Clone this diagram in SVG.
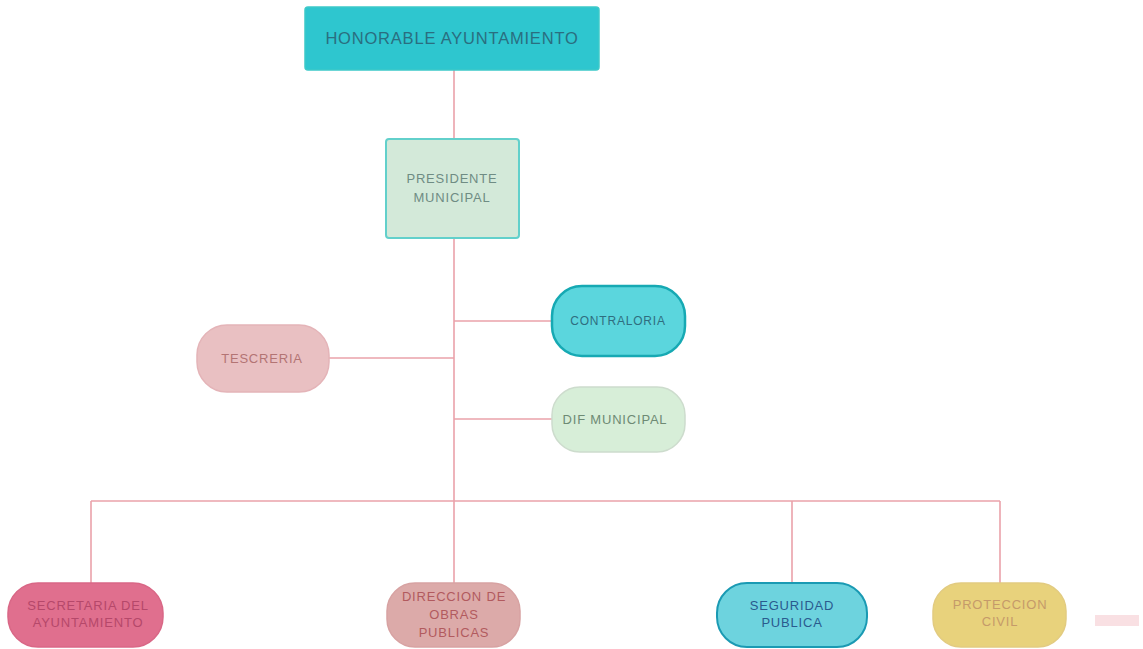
<svg xmlns="http://www.w3.org/2000/svg" width="1143" height="649" viewBox="0 0 1143 649">
<style>
text{font-family:"Liberation Sans",Arial,sans-serif;text-anchor:middle;dominant-baseline:central;font-size:13px;letter-spacing:0.8px}
.c{stroke:#eaa2aa;stroke-width:1.6;fill:none}
</style>
<rect width="1143" height="649" fill="#ffffff"/>
<g id="connectors">
<path class="c" d="M454 70V139M454 238V583M454 321H552M329 358H454M454 419H552M91 501H1000M91 501V583M792 501V583M1000 501V583"/>
</g>
<g id="honorable">
<rect x="305" y="7" width="294" height="63" rx="3" fill="#2ec6cf" stroke="#3dc9c9" stroke-width="1.5"/>
<text x="452" y="38" style="font-size:16.5px;letter-spacing:0.8px" fill="#2a6e80">HONORABLE AYUNTAMIENTO</text>
</g>
<g id="presidente">
<rect x="386" y="139" width="133" height="99" rx="3" fill="#d3e9d9" stroke="#62d0cb" stroke-width="2"/>
<text x="452" y="178" fill="#6f8c84">PRESIDENTE</text>
<text x="452" y="197" fill="#6f8c84">MUNICIPAL</text>
</g>
<g id="contraloria">
<rect x="552" y="286" width="133" height="70" rx="30" fill="#5bd6dd" stroke="#16a9b3" stroke-width="2.5"/>
<text x="618" y="321" style="font-size:12px" fill="#2f6e80">CONTRALORIA</text>
</g>
<g id="tescreria">
<rect x="197" y="325" width="132" height="67" rx="30" fill="#e9c0c2" stroke="#e4b4b8" stroke-width="1.5"/>
<text x="262" y="358" fill="#b37474">TESCRERIA</text>
</g>
<g id="dif">
<rect x="552" y="387" width="133" height="65" rx="28" fill="#d7eed8" stroke="#cddccd" stroke-width="1.5"/>
<text x="615" y="419" fill="#6e8a74">DIF  MUNICIPAL</text>
</g>
<g id="secretaria">
<rect x="8" y="583" width="155" height="64" rx="30" fill="#e06f8e" stroke="#d96786" stroke-width="1.5"/>
<text x="88" y="605" fill="#b5486a">SECRETARIA DEL</text>
<text x="88" y="622" fill="#b5486a">AYUNTAMIENTO</text>
</g>
<g id="direccion">
<rect x="387" y="583" width="133" height="64" rx="28" fill="#dcaaa9" stroke="#d7a2a2" stroke-width="1.5"/>
<text x="454" y="596" fill="#b25a5e">DIRECCION DE</text>
<text x="454" y="614" fill="#b25a5e">OBRAS</text>
<text x="454" y="632" fill="#b25a5e">PUBLICAS</text>
</g>
<g id="seguridad">
<rect x="717" y="583" width="150" height="64" rx="30" fill="#6dd3de" stroke="#1a9ab3" stroke-width="2"/>
<text x="792" y="605" fill="#2a5a8e">SEGURIDAD</text>
<text x="792" y="622" fill="#2a5a8e">PUBLICA</text>
</g>
<g id="proteccion">
<rect x="933" y="583" width="133" height="64" rx="28" fill="#e8d27c" stroke="#e2cb80" stroke-width="1.5"/>
<text x="1000" y="604" fill="#c59a6a">PROTECCION</text>
<text x="1000" y="621" fill="#c59a6a">CIVIL</text>
</g>
<rect x="1095" y="615" width="44" height="11" fill="#f9e0e3"/>
</svg>
